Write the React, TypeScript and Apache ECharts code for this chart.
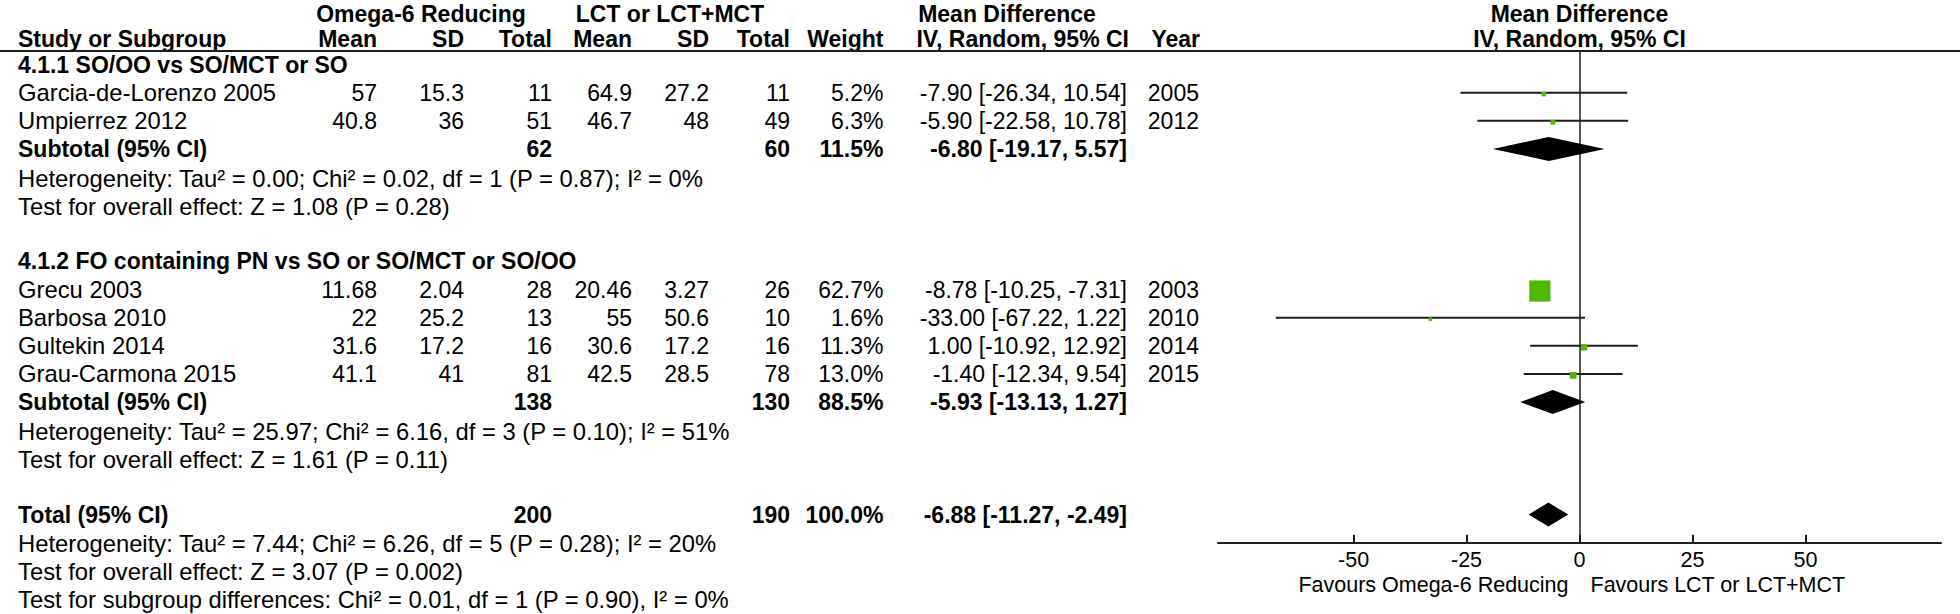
import React, { useEffect, useRef } from 'react';
import * as echarts from 'echarts';

// ---------- data ----------
const groupNames = ['4.1.1 SO/OO vs SO/MCT or SO', '4.1.2 FO containing PN vs SO or SO/MCT or SO/OO'];
const studyNames = ['Garcia-de-Lorenzo 2005', 'Umpierrez 2012', 'Grecu 2003', 'Barbosa 2010', 'Gultekin 2014', 'Grau-Carmona 2015'];
const studyGroup = [0, 0, 1, 1, 1, 1];
const expMean = [57, 40.8, 11.68, 22, 31.6, 41.1];
const expSD = [15.3, 36, 2.04, 25.2, 17.2, 41];
const expN = [11, 51, 28, 13, 16, 81];
const ctlMean = [64.9, 46.7, 20.46, 55, 30.6, 42.5];
const ctlSD = [27.2, 48, 3.27, 50.6, 17.2, 28.5];
const ctlN = [11, 49, 26, 10, 16, 78];
const weight = [5.2, 6.3, 62.7, 1.6, 11.3, 13.0];
const md = [-7.90, -5.90, -8.78, -33.00, 1.00, -1.40];
const ciLow = [-26.34, -22.58, -10.25, -67.22, -10.92, -12.34];
const ciHigh = [10.54, 10.78, -7.31, 1.22, 12.92, 9.54];
const year = [2005, 2012, 2003, 2010, 2014, 2015];

const subExpN = [62, 138];
const subCtlN = [60, 130];
const subWeight = [11.5, 88.5];
const subMd = [-6.80, -5.93];
const subLow = [-19.17, -13.13];
const subHigh = [5.57, 1.27];
const subHet = [
  'Heterogeneity: Tau² = 0.00; Chi² = 0.02, df = 1 (P = 0.87); I² = 0%',
  'Heterogeneity: Tau² = 25.97; Chi² = 6.16, df = 3 (P = 0.10); I² = 51%',
];
const subTest = ['Test for overall effect: Z = 1.08 (P = 0.28)', 'Test for overall effect: Z = 1.61 (P = 0.11)'];

const totExpN = 200;
const totCtlN = 190;
const totWeight = 100.0;
const totMd = -6.88;
const totLow = -11.27;
const totHigh = -2.49;
const totHet = 'Heterogeneity: Tau² = 7.44; Chi² = 6.26, df = 5 (P = 0.28); I² = 20%';
const totTest = 'Test for overall effect: Z = 3.07 (P = 0.002)';
const subgroupDiff = 'Test for subgroup differences: Chi² = 0.01, df = 1 (P = 0.90), I² = 0%';

const axisTicks = [-50, -25, 0, 25, 50];
const favoursLeft = 'Favours Omega-6 Reducing';
const favoursRight = 'Favours LCT or LCT+MCT';

// ---------- style / layout ----------
const FONT = '"Liberation Sans", Arial, sans-serif';
const FS = 23;        // numbers, bold rows, headers
const FS_TXT = 23.8;  // regular text labels
const AX_FS = 21.5;
const INK = '#000';
const LINE = '#1e1e1e';
const GREEN = '#4FB800';
const ROW0 = 64.5;
const STEP = 28.13;
const YMIN = -0.5;
const YMAX = 17;
const NOTE_DY = 1;

const fmt2 = (v: number) => v.toFixed(2);
const ciText = (m: number, l: number, h: number) => `${fmt2(m)} [${fmt2(l)}, ${fmt2(h)}]`;

type Row = { kind: string; idx?: number; text?: string };

export default function App() {
  const ref = useRef<HTMLDivElement>(null);
  useEffect(() => {
    const chart = echarts.init(ref.current!, undefined, { renderer: 'svg' });

    const rows: Row[] = [];
    groupNames.forEach((_, gi) => {
      rows.push({ kind: 'group', idx: gi });
      studyGroup.forEach((g, si) => {
        if (g === gi) rows.push({ kind: 'study', idx: si });
      });
      rows.push({ kind: 'subtotal', idx: gi });
      rows.push({ kind: 'note', text: subHet[gi] });
      rows.push({ kind: 'note', text: subTest[gi] });
      rows.push({ kind: 'blank' });
    });
    rows.push({ kind: 'total' });
    rows.push({ kind: 'note', text: totHet });
    rows.push({ kind: 'note', text: totTest });
    rows.push({ kind: 'note', text: subgroupDiff });

    const studyData: number[][] = [];
    const diamondData: number[][] = [];
    rows.forEach((r, ri) => {
      if (r.kind === 'study') {
        const i = r.idx!;
        studyData.push([md[i], ciLow[i], ciHigh[i], ri, weight[i]]);
      } else if (r.kind === 'subtotal') {
        const g = r.idx!;
        diamondData.push([subMd[g], subLow[g], subHigh[g], ri]);
      } else if (r.kind === 'total') {
        diamondData.push([totMd, totLow, totHigh, ri]);
      }
    });

    const gridTop = ROW0 + YMIN * STEP;
    const gridH = (YMAX - YMIN) * STEP;

    chart.setOption({
      animation: false,
      grid: { left: 1218, width: 723, top: gridTop, height: gridH, containLabel: false },
      xAxis: {
        type: 'value',
        min: -80,
        max: 80,
        position: 'bottom',
        axisLine: { show: true, onZero: false, lineStyle: { color: LINE, width: 2 } },
        axisTick: { show: true, inside: true, length: 8, customValues: axisTicks, lineStyle: { color: LINE, width: 2 } },
        axisLabel: { show: true, customValues: axisTicks, color: INK, fontFamily: FONT, fontSize: AX_FS, margin: 6 },
        splitLine: { show: false },
      },
      yAxis: {
        type: 'value',
        inverse: true,
        min: YMIN,
        max: YMAX,
        axisLine: { show: true, onZero: true, lineStyle: { color: LINE, width: 1.5 } },
        axisTick: { show: false },
        axisLabel: { show: false },
        splitLine: { show: false },
      },
      series: [
        {
          type: 'custom',
          name: 'studies',
          clip: false,
          data: studyData,
          encode: { x: [0, 1, 2], y: 3 },
          renderItem: (params: any, api: any) => {
            const row = api.value(3);
            const p0 = api.coord([api.value(1), row]);
            const p1 = api.coord([api.value(2), row]);
            const pc = api.coord([api.value(0), row]);
            const s = 3 + 0.29 * api.value(4);
            return {
              type: 'group',
              children: [
                { type: 'line', shape: { x1: p0[0], y1: p0[1], x2: p1[0], y2: p1[1] }, style: { stroke: LINE, lineWidth: 2 } },
                { type: 'rect', shape: { x: pc[0] - s / 2, y: pc[1] - s / 2 + 1.5, width: s, height: s }, style: { fill: GREEN } },
              ],
            };
          },
        },
        {
          type: 'custom',
          name: 'pooled',
          clip: false,
          data: diamondData,
          encode: { x: [0, 1, 2], y: 3 },
          renderItem: (params: any, api: any) => {
            const row = api.value(3);
            const pl = api.coord([api.value(1), row]);
            const ph = api.coord([api.value(2), row]);
            const pc = api.coord([api.value(0), row]);
            const h = 12;
            return {
              type: 'polygon',
              shape: { points: [[pl[0], pl[1]], [pc[0], pc[1] - h], [ph[0], ph[1]], [pc[0], pc[1] + h]] },
              style: { fill: '#000' },
            };
          },
        },
      ],
    });

    const yOf = (ri: number) => chart.convertToPixel({ yAxisIndex: 0 }, ri) as number;
    const x0 = chart.convertToPixel({ xAxisIndex: 0 }, 0) as number;

    const T = (text: string, x: number, y: number, align: string, bold = false, size = FS) => ({
      type: 'text',
      silent: true,
      style: {
        text,
        x,
        y,
        fill: INK,
        font: `${bold ? 'bold ' : ''}${size}px ${FONT}`,
        textAlign: align,
        textVerticalAlign: 'middle',
        align,
        verticalAlign: 'middle',
      },
    });

    const L = 18;
    const cMean = 377, cSD = 464, cN = 552, dMean = 632, dSD = 709, dN = 790, cW = 883.5, cCI = 1127, cYear = 1199;
    const H1 = 13.5, H2 = 38.5;

    const g: any[] = [
      T('Omega-6 Reducing', 421, H1, 'center', true),
      T('LCT or LCT+MCT', 670, H1, 'center', true),
      T('Mean Difference', 1007, H1, 'center', true),
      T('Mean Difference', x0, H1, 'center', true),
      T('Study or Subgroup', L, H2, 'left', true),
      T('Mean', cMean, H2, 'right', true),
      T('SD', cSD, H2, 'right', true),
      T('Total', cN, H2, 'right', true),
      T('Mean', dMean, H2, 'right', true),
      T('SD', dSD, H2, 'right', true),
      T('Total', dN, H2, 'right', true),
      T('Weight', cW, H2, 'right', true),
      T('IV, Random, 95% CI', 1129, H2, 'right', true),
      T('Year', 1200, H2, 'right', true),
      T('IV, Random, 95% CI', x0, H2, 'center', true),
      { type: 'line', silent: true, shape: { x1: 0, y1: 51, x2: 1960, y2: 51 }, style: { stroke: LINE, lineWidth: 2.2 } },
      T(favoursLeft, x0 - 11, 585, 'right', false, AX_FS),
      T(favoursRight, x0 + 11, 585, 'left', false, AX_FS),
    ];

    rows.forEach((r, ri) => {
      const y = yOf(ri);
      if (r.kind === 'group') {
        g.push(T(groupNames[r.idx!], L, y, 'left', true));
      } else if (r.kind === 'study') {
        const i = r.idx!;
        g.push(T(studyNames[i], L, y, 'left', false, FS_TXT));
        g.push(T(String(expMean[i]), cMean, y, 'right'));
        g.push(T(String(expSD[i]), cSD, y, 'right'));
        g.push(T(String(expN[i]), cN, y, 'right'));
        g.push(T(String(ctlMean[i]), dMean, y, 'right'));
        g.push(T(String(ctlSD[i]), dSD, y, 'right'));
        g.push(T(String(ctlN[i]), dN, y, 'right'));
        g.push(T(weight[i].toFixed(1) + '%', cW, y, 'right'));
        g.push(T(ciText(md[i], ciLow[i], ciHigh[i]), cCI, y, 'right'));
        g.push(T(String(year[i]), cYear, y, 'right'));
      } else if (r.kind === 'subtotal') {
        const k = r.idx!;
        g.push(T('Subtotal (95% CI)', L, y, 'left', true));
        g.push(T(String(subExpN[k]), cN, y, 'right', true));
        g.push(T(String(subCtlN[k]), dN, y, 'right', true));
        g.push(T(subWeight[k].toFixed(1) + '%', cW, y, 'right', true));
        g.push(T(ciText(subMd[k], subLow[k], subHigh[k]), cCI, y, 'right', true));
      } else if (r.kind === 'total') {
        g.push(T('Total (95% CI)', L, y, 'left', true));
        g.push(T(String(totExpN), cN, y, 'right', true));
        g.push(T(String(totCtlN), dN, y, 'right', true));
        g.push(T(totWeight.toFixed(1) + '%', cW, y, 'right', true));
        g.push(T(ciText(totMd, totLow, totHigh), cCI, y, 'right', true));
      } else if (r.kind === 'note') {
        g.push(T(r.text!, L, y + NOTE_DY, 'left', false, FS_TXT));
      }
    });

    chart.setOption({ graphic: g });

    return () => chart.dispose();
  }, []);

  return (
    <div
      ref={ref}
      style={{ position: 'fixed', left: 0, top: 0, width: 1960, height: 614, background: '#fff' }}
    />
  );
}
